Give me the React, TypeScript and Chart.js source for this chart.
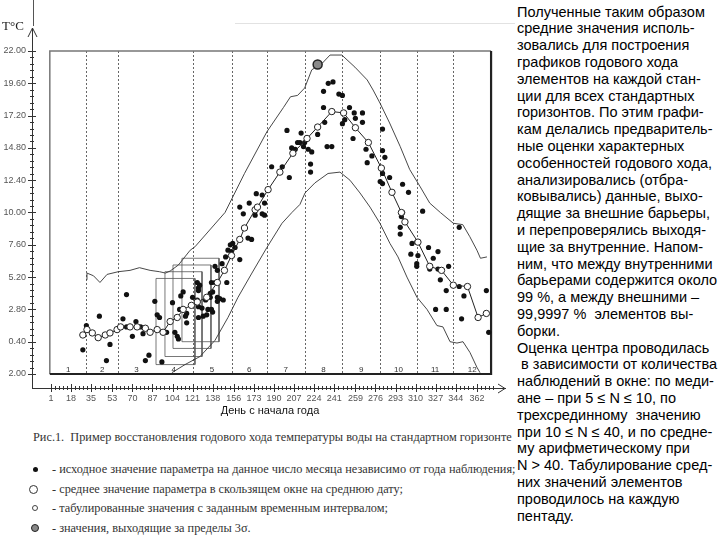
import React, { useEffect, useRef } from "react";
import { Chart, registerables } from "chart.js";
Chart.register(...registerables);

// ---- axis ticks ----
const dayTicks = [1, 18, 35, 53, 70, 87, 104, 121, 138, 156, 173, 190, 207, 224, 241, 259, 276, 293, 310, 327, 344, 362];
const tempTicks = [-2, 0.4, 2.8, 5.2, 7.6, 10, 12.4, 14.8, 17.2, 19.6, 22];
const tempTickLabels = ["2.00", "0.40", "2.80", "5.20", "7.60", "10.00", "12.40", "14.80", "17.20", "19.60", "22.00"];

// ---- inner frame / months ----
const frameDays = [0, 374];
const frameTemps = [-2, 22];
const monthBounds = [0, 31, 58, 89, 121, 154, 184, 216, 248, 280, 311, 342, 374];
const monthDotted = [31, 58, 121, 154, 184, 216, 248, 280, 311, 342];
const monthLabels = ["1", "2", "3", "4", "5", "6", "7", "8", "9", "10", "11", "12"];

// ---- data: [day, T] ----
const observed: [number, number][] = [
  [31, 1.6], [28, -0.2], [42, 2.3], [51, 0.2], [48, -1.0], [62, 2.1], [65, 3.9], [70, 0.8], [73, 1.9],
  [79, 1.0], [81, -1.0], [84, -0.6], [65, 1.5], [77, 1.5], [89, 3.4], [91, 2.4], [93, 2.2], [95, -1.1],
  [99, 1.1], [104, 3.3], [106, 1.1], [108, 0.8], [109, 0.6], [113, 4.1], [111, 3.8], [110, 2.8], [115, 2.3],
  [116, 1.8], [116, 2.5], [125, 4.8], [126, 4.4], [125, 3.5], [121, 3.7], [126, 2.2],
  [161, 10.4], [164, 9.9], [174, 9.8], [180, 9.9], [182, 9.8], [168, 8.1], [171, 8.0], [153, 7.6], [155, 7.7],
  [157, 7.4], [151, 7.2], [154, 7.1], [161, 6.5], [149, 6.7], [146, 6.2], [140, 6.0], [142, 5.7], [137, 4.8],
  [140, 4.8], [150, 4.8], [127, 4.6], [126, 4.2], [136, 4.0], [138, 4.1], [132, 3.5], [136, 3.7], [142, 3.7],
  [144, 3.6], [147, 3.5], [142, 3.4], [126, 3.0], [129, 2.9], [134, 2.8], [137, 2.8], [138, 2.6], [133, 2.4],
  [130, 2.3],
  [236, 19.6], [240, 19.7], [232, 19.0], [245, 18.8], [232, 17.8], [233, 16.7], [227, 15.8], [201, 16.1],
  [213, 15.9], [210, 15.2], [212, 15.2], [205, 14.8], [208, 14.7], [215, 14.9], [216, 15.2], [219, 14.7],
  [222, 14.5], [235, 14.9], [239, 14.9], [221, 13.6], [221, 13.0], [188, 13.4], [197, 13.4], [203, 12.6],
  [175, 11.4], [180, 11.3], [169, 10.7], [182, 10.7], [248, 16.6],
  [248, 18.7], [254, 17.8], [258, 17.4], [265, 17.4], [259, 17.0], [250, 16.9], [265, 16.7], [282, 16.2],
  [257, 15.5], [268, 14.7], [282, 14.6], [273, 14.2], [284, 14.1], [269, 13.7], [282, 12.9], [288, 12.6],
  [280, 12.3], [282, 12.15], [299, 12.1], [304, 11.5], [299, 10.0], [316, 10.1],
  [298, 9.7], [297, 8.9], [297, 8.4], [307, 7.7], [311, 7.8], [306, 6.9], [312, 6.8], [321, 7.4], [329, 7.1],
  [325, 6.6], [311, 6.2], [311, 6.0], [322, 5.8], [329, 5.8], [338, 6.0], [331, 5.0], [336, 4.2], [347, 8.9],
  [347, 4.5], [351, 3.8], [327, 2.8], [336, 2.8], [349, 2.1], [370, 4.2], [372, 1.1],
];
const outliers: [number, number][] = [[227, 21.0]];
const meanCurve: [number, number][] = [
  [28, 0.9], [31.5, 1.3], [36, 1.05], [41, 0.7], [47, 0.9], [51, 1.05], [57, 1.3], [60, 1.5], [68, 1.5],
  [74, 1.5], [81, 1.4], [85, 1.1], [91, 1.3], [96, 1.1], [102, 1.9], [108, 2.2], [113, 2.8], [120, 3.1],
  [125, 3.35], [133, 3.7], [142, 4.8], [148, 5.7], [154, 6.8], [161, 8.0], [165, 8.85], [174, 10.2],
  [176, 10.4], [185, 11.7], [195, 13.0], [206, 14.4], [218, 15.5], [227, 16.35], [239, 17.5], [249, 17.4],
  [259, 16.3], [270, 15.2], [281, 13.3], [290, 11.5], [298, 10.0], [301, 9.3], [312, 7.8], [322, 6.0],
  [332, 5.7], [342, 4.6], [354, 4.5], [363, 2.2], [370, 2.5],
];
const upperBarrier: [number, number][] = [
  [31, 5.0], [31.5, 5.5], [37, 5.3], [42.5, 4.8], [48.5, 5.4], [58, 5.6], [68, 5.7], [76, 5.9], [85, 5.7],
  [93, 5.6], [98, 5.5], [102, 5.65], [109, 6.1], [119, 7.2], [123, 7.45], [148.5, 10.0], [165, 12.9],
  [184, 16.0], [198, 17.8], [204, 18.6], [210, 18.7], [216, 19.25], [222, 20.6], [231, 21.1], [237.5, 21.7],
  [247.5, 21.7], [258.6, 20.8], [269, 19.85], [274, 19.1], [280, 18.1], [288, 16.65], [297, 14.9],
  [305, 13.2], [314, 11.9], [322, 10.7], [331, 10.0], [342, 9.2], [350, 9.1], [356, 8.2], [362, 7.2],
  [365, 6.6], [370.5, 6.7],
];
const lowerBarrier: [number, number][] = [
  [103.5, -1.9], [114.6, -1.3], [127.3, -0.7], [140, 0.5], [151, 2.2], [159.5, 3.7], [171.3, 5.5],
  [184, 7.4], [196.8, 9.2], [205.2, 10.0], [212, 10.6], [216.3, 11.45], [224.7, 12.2], [235.8, 12.9],
  [245.9, 13.0], [254.4, 12.4], [262.9, 11.45], [271.4, 10.4], [279.8, 9.2], [288.3, 7.7], [295.1, 6.7],
  [302.7, 5.2], [311.2, 3.7], [319.7, 2.8], [328.1, 1.6], [333.2, 1.5], [339.2, 0.4], [345.1, 0.3],
  [350.2, 0.4], [356.1, -0.4], [362, -1.5], [364.6, -1.9],
];
// sliding windows: [dayFrom, dayTo, Ttop, Tbottom]
const windows: [number, number, number, number][] = [
  [90, 123, 5.1, -1.3],
  [97.6, 129, 5.6, -0.7],
  [104.4, 136.6, 6.1, -0.1],
  [112, 143.4, 6.6, 0.4],
];

const rightText = [
  "Полученные таким образом",
  "средние значения исполь-",
  "зовались для построения",
  "графиков годового хода",
  "элементов на каждой стан-",
  "ции для всех стандартных",
  "горизонтов. По этим графи-",
  "кам делались предваритель-",
  "ные оценки характерных",
  "особенностей годового хода,",
  "анализировались (отбра-",
  "ковывались) данные, выхо-",
  "дящие за внешние барьеры,",
  "и перепроверялись выходя-",
  "щие за внутренние. Напом-",
  "ним, что между внутренними",
  "барьерами содержится около",
  "99 %, а между внешними –",
  "99,9997 %  элементов вы-",
  "борки.",
  "Оценка центра проводилась",
  " в зависимости от количества",
  "наблюдений в окне: по меди-",
  "ане – при 5 ≤ N ≤ 10, по",
  "трехсрединному  значению",
  "при 10 ≤ N ≤ 40, и по средне-",
  "му арифметическому при",
  "N > 40. Табулирование сред-",
  "них значений элементов",
  "проводилось на каждую",
  "пентаду.",
];
const caption = "Рис.1.  Пример восстановления годового хода температуры воды на стандартном горизонте";
const legendTexts = [
  "- исходное значение параметра на данное число месяца независимо от года наблюдения;",
  "- среднее значение параметра в скользящем окне на среднюю дату;",
  "- табулированные значения с заданным временным интервалом;",
  "- значения, выходящие за пределы 3σ.",
];

const toXY = (a: [number, number][]) => a.map(([x, y]) => ({ x, y }));

const decor = {
  id: "decor",
  beforeDatasetsDraw(chart: any) {
    const { ctx } = chart;
    const x = chart.scales.x, y = chart.scales.y;
    const x0 = x.getPixelForValue(frameDays[0]), x1 = x.getPixelForValue(frameDays[1]);
    const yt = y.getPixelForValue(frameTemps[1]), yb = y.getPixelForValue(frameTemps[0]);
    ctx.save();
    ctx.strokeStyle = "#666";
    ctx.lineWidth = 1;
    ctx.setLineDash([2, 2]);
    monthDotted.forEach((d) => {
      const px = Math.round(x.getPixelForValue(d)) + 0.5;
      ctx.beginPath();
      ctx.moveTo(px, yt);
      ctx.lineTo(px, yb);
      ctx.stroke();
    });
    ctx.setLineDash([]);
    ctx.fillStyle = "#333";
    ctx.font = '8px "Liberation Sans", Arial, sans-serif';
    ctx.textAlign = "center";
    ctx.textBaseline = "alphabetic";
    monthLabels.forEach((m, i) => {
      const c = (monthBounds[i] + monthBounds[i + 1]) / 2;
      ctx.fillText(m, x.getPixelForValue(c), yb - 2);
    });
    ctx.lineWidth = 1.5;
    ctx.strokeStyle = "#777";
    ctx.beginPath();
    ctx.moveTo(x0, yb);
    ctx.lineTo(x0, yt);
    ctx.lineTo(x1, yt);
    ctx.stroke();
    ctx.lineWidth = 2.2;
    ctx.strokeStyle = "#222";
    ctx.beginPath();
    ctx.moveTo(x1, yt);
    ctx.lineTo(x1, yb);
    ctx.lineTo(x0, yb);
    ctx.stroke();
    ctx.restore();
  },
  afterDraw(chart: any) {
    const { ctx, chartArea } = chart;
    const x = chart.scales.x, y = chart.scales.y;
    const L = chartArea.left, B = chartArea.bottom, T = chartArea.top, R = chartArea.right;
    ctx.save();
    ctx.strokeStyle = "#333";
    ctx.lineWidth = 1;
    for (let i = 0; i < tempTicks.length; i++) {
      const py = Math.round(y.getPixelForValue(tempTicks[i])) + 0.5;
      ctx.beginPath(); ctx.moveTo(L - 4, py); ctx.lineTo(L + 4, py); ctx.stroke();
      if (i < tempTicks.length - 1) {
        for (let k = 1; k < 5; k++) {
          const v = tempTicks[i] + ((tempTicks[i + 1] - tempTicks[i]) * k) / 5;
          const p = Math.round(y.getPixelForValue(v)) + 0.5;
          ctx.beginPath(); ctx.moveTo(L - 2, p); ctx.lineTo(L + 2, p); ctx.stroke();
        }
      }
    }
    for (let i = 0; i < dayTicks.length; i++) {
      const px = Math.round(x.getPixelForValue(dayTicks[i])) + 0.5;
      ctx.beginPath(); ctx.moveTo(px, B - 4); ctx.lineTo(px, B + 4); ctx.stroke();
      const next = i < dayTicks.length - 1 ? dayTicks[i + 1] : dayTicks[i] + 17;
      for (let k = 1; k < 5; k++) {
        const v = dayTicks[i] + ((next - dayTicks[i]) * k) / 5;
        const p = Math.round(x.getPixelForValue(v)) + 0.5;
        ctx.beginPath(); ctx.moveTo(p, B - 2); ctx.lineTo(p, B + 2); ctx.stroke();
      }
    }
    ctx.beginPath();
    ctx.moveTo(L + 0.5, T + 2); ctx.lineTo(L + 0.5, T - 2);
    ctx.moveTo(L - 4, T + 7); ctx.lineTo(L + 0.5, T - 2); ctx.lineTo(L + 5, T + 7);
    ctx.stroke();
    ctx.beginPath();
    ctx.moveTo(R - 7, B - 4); ctx.lineTo(R, B + 0.5); ctx.lineTo(R - 7, B + 5);
    ctx.stroke();
    ctx.strokeStyle = "#555";
    ctx.beginPath(); ctx.moveTo(L + 1.5, 0); ctx.lineTo(L + 1.5, 26); ctx.stroke();
    ctx.strokeStyle = "#e2e2e2";
    ctx.beginPath(); ctx.moveTo(235, 23.5); ctx.lineTo(515, 23.5); ctx.stroke();
    ctx.restore();
  },
};

export default function App() {
  const ref = useRef<HTMLCanvasElement | null>(null);
  useEffect(() => {
    if (!ref.current) return;
    Chart.defaults.font.family = '"Liberation Sans", Arial, sans-serif';
    const windowPts: any[] = [];
    windows.forEach(([a, b, t, bt]) => {
      windowPts.push({ x: a, y: t }, { x: b, y: t }, { x: b, y: bt }, { x: a, y: bt }, { x: a, y: t }, { x: b, y: null });
    });
    const chart = new Chart(ref.current, {
      type: "line",
      data: {
        datasets: [
          { label: "mean", data: toXY(meanCurve), borderColor: "#222", borderWidth: 1, pointRadius: 3.2,
            pointBackgroundColor: "#fff", pointBorderColor: "#222", pointBorderWidth: 1, order: 0 } as any,
          { label: "outlier", data: toXY(outliers), showLine: false, pointRadius: 4.5,
            pointBackgroundColor: "#8a8a8a", pointBorderColor: "#222", pointBorderWidth: 1.5, order: 0 } as any,
          { label: "observed", data: toXY(observed), showLine: false, pointRadius: 2.6,
            pointBackgroundColor: "#111", pointBorderWidth: 0, order: 1 } as any,
          { label: "upper", data: toXY(upperBarrier), borderColor: "#333", borderWidth: 0.9, pointRadius: 0, order: 2 } as any,
          { label: "lower", data: toXY(lowerBarrier), borderColor: "#333", borderWidth: 0.9, pointRadius: 0, order: 2 } as any,
          { label: "windows", data: windowPts, borderColor: "#555", borderWidth: 0.8, pointRadius: 0, spanGaps: false, order: 3 } as any,
        ],
      },
      options: {
        responsive: false,
        animation: false,
        devicePixelRatio: 1,
        layout: { padding: { left: 0, top: 30, right: 10, bottom: 0 } },
        plugins: { legend: { display: false }, tooltip: { enabled: false } },
        scales: {
          x: {
            type: "linear",
            position: "bottom",
            min: -15.1,
            max: 385.8,
            afterBuildTicks: (s: any) => { s.ticks = dayTicks.map((v) => ({ value: v })); },
            afterFit: (s: any) => { s.height = 32; },
            ticks: { autoSkip: false, maxRotation: 0, padding: 5, color: "#555", font: { size: 9 },
              callback: (v: any) => String(v) },
            grid: { drawOnChartArea: false, drawTicks: false },
            border: { display: true, color: "#333", width: 1 },
          },
          y: {
            type: "linear",
            position: "left",
            min: -3.04,
            max: 23.56,
            afterBuildTicks: (s: any) => { s.ticks = tempTicks.map((v) => ({ value: v })); },
            afterFit: (s: any) => { s.width = 32; },
            ticks: { autoSkip: false, padding: 6, color: "#555", font: { size: 9 },
              callback: (v: any) => { const i = tempTicks.findIndex((t) => Math.abs(t - v) < 1e-6); return i >= 0 ? tempTickLabels[i] : ""; } },
            grid: { drawOnChartArea: false, drawTicks: false },
            border: { display: true, color: "#333", width: 1 },
          },
        },
      },
      plugins: [decor],
    });
    return () => chart.destroy();
  }, []);

  const sans = '"Liberation Sans", Arial, sans-serif';
  const serif = '"Liberation Serif", "Times New Roman", serif';
  const legendY = [469, 489, 508, 528];
  const marker = (i: number) => {
    const specs = [
      { s: 5, bg: "#111", bd: "none" },
      { s: 9, bg: "#fff", bd: "1px solid #333" },
      { s: 6, bg: "#fff", bd: "1px solid #444" },
      { s: 8, bg: "#888", bd: "1.5px solid #222" },
    ][i];
    const cx = i === 1 ? 33 : 35;
    return (
      <div key={"m" + i} style={{ position: "absolute", left: cx - specs.s / 2, top: legendY[i] - specs.s / 2,
        width: specs.s, height: specs.s, borderRadius: "50%", background: specs.bg, border: specs.bd, boxSizing: "border-box" }} />
    );
  };

  return (
    <div style={{ position: "absolute", left: 0, top: 0, width: 720, height: 540, overflow: "hidden", background: "#fff" }}>
      <canvas ref={ref} width={515} height={420} style={{ position: "absolute", left: 0, top: 0 }} />
      <div style={{ position: "absolute", left: 2, top: 19, fontFamily: serif, fontSize: 13, lineHeight: "14px", color: "#222" }}>T°C</div>
      <div style={{ position: "absolute", left: 220, top: 403, width: 100, textAlign: "center", fontFamily: sans, fontSize: 11, lineHeight: "14px", color: "#111", whiteSpace: "nowrap" }}>День с начала года</div>
      <div style={{ position: "absolute", left: 33, top: 429, fontFamily: serif, fontSize: 12.3, lineHeight: "16px", color: "#333", whiteSpace: "pre" }}>{caption}</div>
      {legendTexts.map((t, i) => (
        <div key={"l" + i} style={{ position: "absolute", left: 52, top: legendY[i] - 8, fontFamily: serif, fontSize: 12.3, lineHeight: "16px", color: "#333", whiteSpace: "pre" }}>{t}</div>
      ))}
      {[0, 1, 2, 3].map(marker)}
      {rightText.map((t, i) => (
        <div key={"r" + i} style={{ position: "absolute", left: 517, top: 3.6 + i * 16.8, fontFamily: sans, fontSize: 14.5, lineHeight: "16.8px", color: "#000", whiteSpace: "pre" }}>{t}</div>
      ))}
    </div>
  );
}
